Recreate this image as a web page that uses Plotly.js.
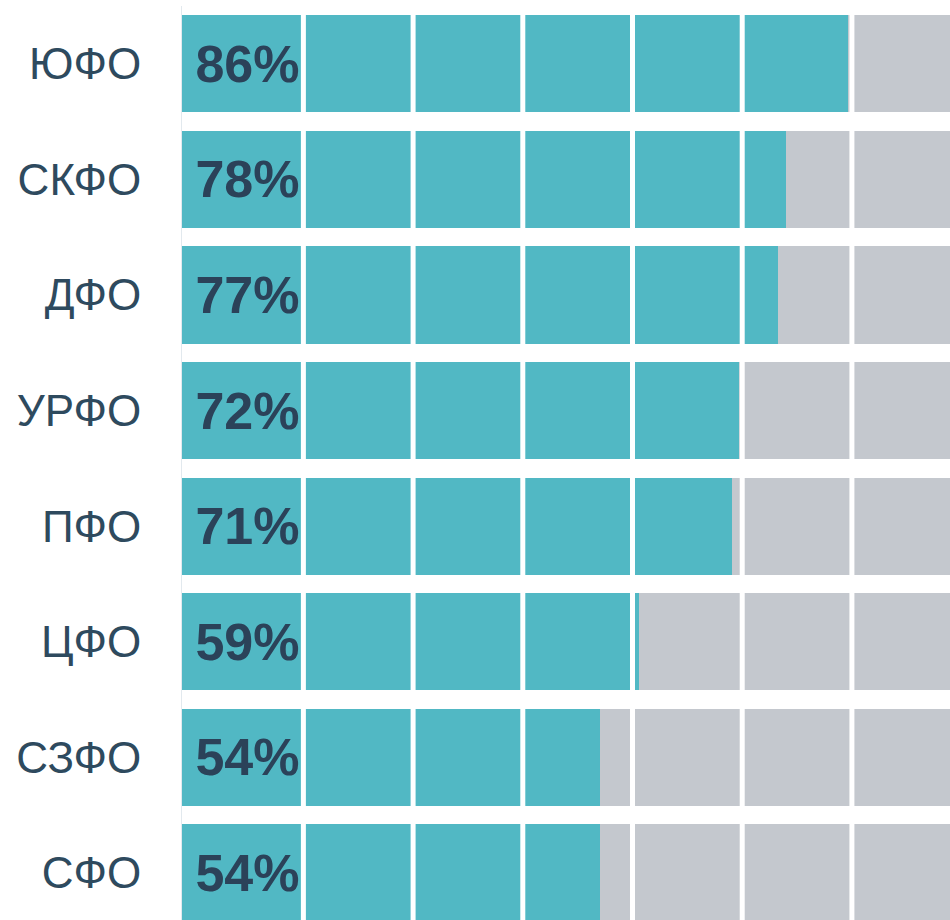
<!DOCTYPE html>
<html>
<head>
<meta charset="utf-8">
<script src="https://cdn.plot.ly/plotly-3.0.1.min.js"></script>
<style>
  html, body { margin: 0; padding: 0; background: #ffffff; }
  #chart { width: 950px; height: 920px; }
</style>
</head>
<body>
<div id="chart"></div>
<script>
// share by federal district, top to bottom
const districts = ["ЮФО", "СКФО", "ДФО", "УРФО", "ПФО", "ЦФО", "СЗФО", "СФО"];
const shares = [86, 78, 77, 72, 71, 59, 54, 54];
const rest = shares.map((v) => 100 - v);
const shareLabels = shares.map((v) => v + "%");

const TEAL = "#51b8c4";
const GREY = "#c4c8ce";
const INK = "#2b4259";
const LABEL_INK = "#2e4a5e";

// white separators cutting the bars into blocks (data units)
const SEP_START = 15.68;
const SEP_STEP = 14.17;
const X_MAX = 99.2;

const separators = [];
for (let x = SEP_START; x < X_MAX; x += SEP_STEP) {
  separators.push({
    type: "line",
    layer: "above",
    xref: "x", x0: x, x1: x,
    yref: "paper", y0: 0, y1: 1,
    line: { color: "#ffffff", width: 5 },
  });
}

const traces = [
  {
    type: "bar",
    orientation: "h",
    y: districts,
    x: shares,
    marker: { color: TEAL, line: { width: 0 } },
    text: shareLabels.map((t) => "\u2009" + t),
    textposition: "inside",
    insidetextanchor: "start",
    textangle: 0,
    constraintext: "none",
    textfont: { family: "Liberation Sans, Arial, sans-serif", size: 52, color: INK, weight: "bold" },
    hoverinfo: "skip",
  },
  {
    type: "bar",
    orientation: "h",
    y: districts,
    x: rest,
    marker: { color: GREY, line: { width: 0 } },
    hoverinfo: "skip",
  },
];

const layout = {
  width: 950,
  height: 920,
  paper_bgcolor: "#ffffff",
  plot_bgcolor: "#ffffff",
  margin: { t: 6, r: 0, b: 0, l: 182 },
  barmode: "stack",
  bargap: 0.16,
  showlegend: false,
  xaxis: {
    range: [0, X_MAX],
    showgrid: false,
    zeroline: false,
    showticklabels: false,
    showline: false,
    fixedrange: true,
  },
  yaxis: {
    type: "category",
    range: [7.407, -0.5],
    showgrid: false,
    zeroline: false,
    showline: true,
    linecolor: "#e2e9ee",
    linewidth: 1,
    ticks: "outside",
    ticklen: 31,
    tickcolor: "rgba(0,0,0,0)",
    tickfont: { family: "Liberation Sans, Arial, sans-serif", size: 44, color: LABEL_INK },
    fixedrange: true,
  },
  shapes: separators,
};

Plotly.newPlot("chart", traces, layout, { displayModeBar: false, staticPlot: true });
</script>
</body>
</html>
